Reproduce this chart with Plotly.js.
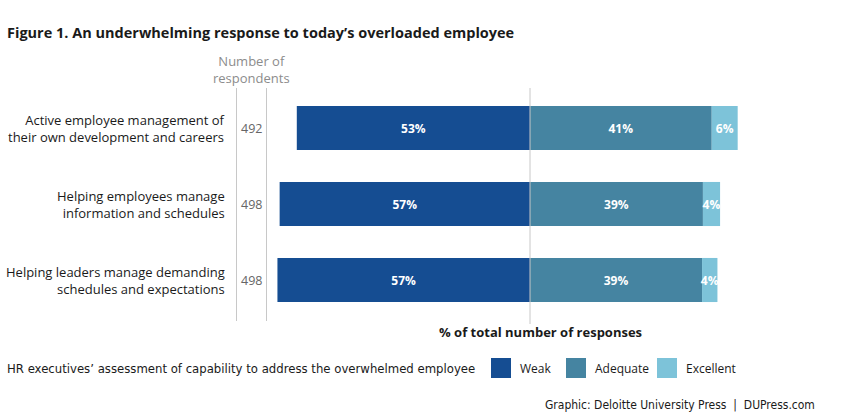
<!DOCTYPE html>
<html><head><meta charset="utf-8">
<script src="https://cdn.plot.ly/plotly-3.0.1.min.js"></script>
<style>body{margin:0;background:#fff}#c{width:843px;height:417px}</style></head>
<body><div id="c"></div><script>
const categories = ["Active employee management of<br>their own development and careers",
                    "Helping employees manage<br>information and schedules",
                    "Helping leaders manage demanding<br>schedules and expectations"];
const respondents = [492, 498, 498];
const seriesNames = ["Weak", "Adequate", "Excellent"];
const weak = [53.0, 56.9, 57.4];
const adequate = [41.3, 39.3, 39.1];
const excellent = [5.9, 3.9, 3.5];
const colors = ["#154d92", "#4584a1", "#7dc3d9"];

const L = 266, W = 528, T = 90, H = 228;
const px = x => (x - L) / W;
const py = y => (T + H - y) / H;
const FONT = "Open Sans, Noto Sans, sans-serif";
const NARROW = "DejaVu Sans Condensed, Liberation Sans Narrow, sans-serif";
const idx = categories.map((c, i) => i);

function barTrace(vals, sign, name, color) {
  return {
    type: 'bar', orientation: 'h', name: name,
    y: idx, x: vals.map(v => sign * v),
    text: vals.map(v => Math.round(v) + '%'),
    textposition: 'inside', insidetextanchor: 'middle', constraintext: 'none', textangle: 0,
    textfont: {family: FONT, size: 12, color: '#ffffff', weight: 'bold'},
    marker: {color: color}, hoverinfo: 'none', showlegend: false, cliponaxis: false
  };
}
const data = [
  barTrace(weak, -1, seriesNames[0], colors[0]),
  barTrace(adequate, 1, seriesNames[1], colors[1]),
  barTrace(excellent, 1, seriesNames[2], colors[2])
];

const annotations = [];
categories.forEach((c, i) => {
  annotations.push({xref: 'paper', yref: 'y', x: px(227), y: i, xanchor: 'right', yanchor: 'middle',
    text: c, showarrow: false, align: 'right', font: {family: FONT, size: 13, color: '#1a1a1a'}});
  annotations.push({xref: 'paper', yref: 'y', x: px(251), y: i, xanchor: 'center', yanchor: 'middle',
    text: String(respondents[i]), showarrow: false, font: {family: FONT, size: 12.5, color: '#666'}});
});
annotations.push({xref: 'paper', yref: 'paper', x: px(251), y: py(69), xanchor: 'center', yanchor: 'middle',
  text: 'Number of<br>respondents', showarrow: false, font: {family: FONT, size: 13, color: '#8c8c8c'}});
annotations.push({xref: 'paper', yref: 'paper', x: px(540), y: py(332), xanchor: 'center', yanchor: 'middle',
  text: '<b>% of total number of responses</b>', showarrow: false, font: {family: FONT, size: 13, color: '#1a1a1a'}});
annotations.push({xref: 'paper', yref: 'paper', x: px(5), y: py(368), xanchor: 'left', yanchor: 'middle',
  text: 'HR executives’ assessment of capability to address the overwhelmed employee', showarrow: false,
  font: {family: NARROW, size: 13, color: '#1a1a1a'}});
annotations.push({xref: 'paper', yref: 'paper', x: px(817), y: py(405), xanchor: 'right', yanchor: 'middle',
  text: 'Graphic: Deloitte University Press  |  DUPress.com', showarrow: false,
  font: {family: NARROW, size: 12, color: '#1a1a1a'}});

const shapes = [
  {type: 'line', xref: 'x', yref: 'paper', x0: 0, x1: 0, y0: py(324), y1: py(88), line: {color: '#c8c8c8', width: 1}},
  {type: 'line', xref: 'paper', yref: 'paper', x0: px(236.5), x1: px(236.5), y0: py(321), y1: py(88), line: {color: '#c8c8c8', width: 1}},
  {type: 'line', xref: 'paper', yref: 'paper', x0: px(266.5), x1: px(266.5), y0: py(321), y1: py(88), line: {color: '#c8c8c8', width: 1}}
];
const legendX = [491, 566, 657];
seriesNames.forEach((n, i) => {
  shapes.push({type: 'rect', xref: 'paper', yref: 'paper', x0: px(legendX[i]), x1: px(legendX[i] + 20),
    y0: py(378), y1: py(358), fillcolor: colors[i], line: {width: 0}});
  annotations.push({xref: 'paper', yref: 'paper', x: px(legendX[i] + 27), y: py(368), xanchor: 'left', yanchor: 'middle',
    text: n, showarrow: false, font: {family: FONT, size: 12, color: '#1a1a1a'}});
});

const layout = {
  width: 843, height: 417,
  margin: {l: L, r: 843 - L - W, t: T, b: 417 - T - H},
  paper_bgcolor: '#fff', plot_bgcolor: '#fff',
  title: {text: '<b>Figure 1. An underwhelming response to today’s overloaded employee</b>',
    x: 7 / 843, xanchor: 'left', y: 1 - 33 / 417, yanchor: 'middle',
    font: {family: FONT, size: 14.5, color: '#1a1a1a'}},
  barmode: 'relative', bargap: 0.42,
  xaxis: {range: [-60, 60], showgrid: false, zeroline: false, showticklabels: false, showline: false, fixedrange: true},
  yaxis: {range: [2.5, -0.5], showgrid: false, zeroline: false, showticklabels: false, showline: false, fixedrange: true},
  shapes: shapes, annotations: annotations, showlegend: false
};
Plotly.newPlot('c', data, layout, {displayModeBar: false, staticPlot: true});
</script></body></html>
